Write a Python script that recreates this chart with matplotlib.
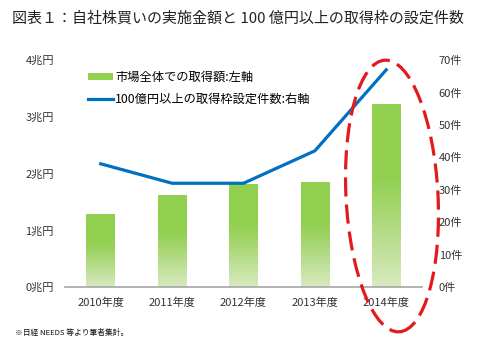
import numpy as np
import matplotlib.pyplot as plt
from matplotlib.colors import LinearSegmentedColormap
from matplotlib.patches import Ellipse
from matplotlib.lines import Line2D
from matplotlib.patches import Patch

plt.rcParams['font.family'] = ['Noto Sans CJK JP', 'DejaVu Sans']

# data
years = ['2010年度', '2011年度', '2012年度', '2013年度', '2014年度']
amount = [1.29, 1.62, 1.81, 1.85, 3.22]      # 兆円, left axis
count = [38, 32, 32, 42, 67]                 # 件, right axis
left_ticks = ['0兆円', '1兆円', '2兆円', '3兆円', '4兆円']
right_ticks = ['0件', '10件', '20件', '30件', '40件', '50件', '60件', '70件']

fig = plt.figure(figsize=(4.83, 3.47), dpi=100)
ax1 = fig.add_axes([0.1346, 0.1729, 0.739, 0.654])
ax2 = ax1.twinx()

x = np.arange(len(years))
bars = ax1.bar(x, amount, width=0.4, color='none', edgecolor='none', zorder=2)

# gradient fill for each bar: solid green on top, fading out at the base
cmap = LinearSegmentedColormap.from_list('g', [(0.0, '#d8eac0'), (0.4, '#a9d774'), (0.6, '#92d050'), (1.0, '#92d050')])
grad = np.linspace(0, 1, 256).reshape(-1, 1)
for b in bars:
    x0 = b.get_x()
    w, h = b.get_width(), b.get_height()
    im = ax1.imshow(grad, cmap=cmap, origin='lower', aspect='auto',
                    extent=[x0, x0 + w, 0, h], zorder=2)
    im.set_clip_path(b)

ax1.set_xlim(-0.5, 4.5)
ax1.set_ylim(0, 4)
ax1.set_yticks(range(5))
ax1.set_yticklabels(left_ticks)
ax1.set_xticks(x)
ax1.set_xticklabels(years)

ax2.plot(x, count, color='#0070c0', lw=2.3, zorder=3)
ax2.set_ylim(0, 70)
ax2.set_yticks(range(0, 71, 10))
ax2.set_yticklabels(right_ticks)

for a in (ax1, ax2):
    for s in ['top', 'left', 'right', 'bottom']:
        a.spines[s].set_visible(False)
    a.tick_params(length=0, labelsize=8, colors='#333333')
ax1.spines['bottom'].set_visible(True)
ax1.spines['bottom'].set_color('#a6a6a6')
ax1.spines['bottom'].set_linewidth(1.2)
ax1.tick_params(axis='y', pad=8)
ax1.tick_params(axis='x', pad=8)
ax2.tick_params(axis='y', pad=12)

handles = [Patch(facecolor='#92d050', edgecolor='none'),
           Line2D([0], [0], color='#0070c0', lw=2.3)]
ax1.legend(handles, ['市場全体での取得額:左軸', '100億円以上の取得枠設定件数:右軸'],
           loc='upper left', bbox_to_anchor=(0.045, 0.985), frameon=False,
           fontsize=8.8, handlelength=2.0, handleheight=0.45, handletextpad=0.2,
           labelspacing=0.75, borderaxespad=0.2)

# dashed ring around the last fiscal year
ell = Ellipse((392, 347 - 196), 92, 272, angle=3, transform=None,
              fill=False, edgecolor='#e31a1c', lw=2.3, ls=(0, (6, 2.5)), zorder=5)
fig.patches.append(ell)

fig.text(0.025, 0.948, '図表１：自社株買いの実施金額と 100 億円以上の取得枠の設定件数',
         fontsize=10.8, color='#222222', va='center')
fig.text(0.032, 0.04, '※日経 NEEDS 等より筆者集計。', fontsize=5.6, color='#111111', va='center')

fig.savefig('out.png', dpi=100)
